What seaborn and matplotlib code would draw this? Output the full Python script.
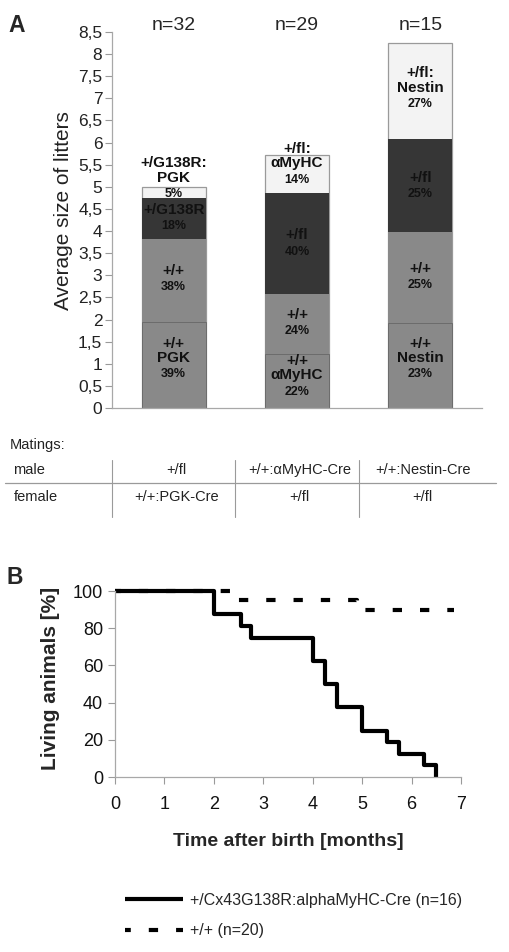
import numpy as np
import pandas as pd
import matplotlib
matplotlib.use('Agg')
from matplotlib import pyplot as plt
from matplotlib.lines import Line2D
import matplotlib.transforms as mtransforms
import seaborn as sns

# --- panel A: average litter size, stacked by genotype ---
crosses = ['PGK', 'αMyHC', 'Nestin']
n_litters = [32, 29, 15]
seg_cre = [1.95, 1.22, 1.92]   # +/+ carrying Cre
seg_wt = [1.88, 1.36, 2.05]    # +/+
seg_mut = [0.92, 2.27, 2.10]   # +/G138R or +/fl
seg_top = [0.25, 0.87, 2.18]   # +/G138R:Cre or +/fl:Cre

lbl_cre = [['+/+', 'PGK', '39%'], ['+/+', 'αMyHC', '22%'], ['+/+', 'Nestin', '23%']]
lbl_wt = [['+/+', '38%'], ['+/+', '24%'], ['+/+', '25%']]
lbl_mut = [['+/G138R', '18%'], ['+/fl', '40%'], ['+/fl', '25%']]
lbl_top = [['+/G138R:', 'PGK', '5%'], ['+/fl:', 'αMyHC', '14%'], ['+/fl:', 'Nestin', '27%']]

yticks_a = np.arange(0, 8.51, 0.5)

males = ['+/fl', '+/+:αMyHC-Cre', '+/+:Nestin-Cre']
females = ['+/+:PGK-Cre', '+/fl', '+/fl']

# --- panel B: survival ---
t_mut = [0, 2.0, 2.55, 2.75, 4.0, 4.25, 4.5, 5.0, 5.5, 5.75, 6.25, 6.5]
s_mut = [100, 87.5, 81.25, 75, 62.5, 50, 37.5, 25, 18.75, 12.5, 6.25, 0]
t_wt = [0, 2.33, 4.9, 6.85]
s_wt = [100, 95, 90, 90]

sns.set_style('white')
plt.rcParams['font.family'] = ['Liberation Sans', 'DejaVu Sans']

fig = plt.figure(figsize=(5.09, 9.52), dpi=100)
W, H = 509., 952.

# ---------- panel A ----------
ax = fig.add_axes([112/W, 1-408/H, 370/W, 376/H])
c1 = np.array(seg_cre)
c2 = c1 + np.array(seg_wt)
c3 = c2 + np.array(seg_mut)
c4 = c3 + np.array(seg_top)

bw = 0.52
sns.barplot(x=crosses, y=c4, color='#f3f3f3', edgecolor='#9a9a9a', linewidth=0.9,
            width=bw, saturation=1, ax=ax)
sns.barplot(x=crosses, y=c3, color='#363636', linewidth=0, width=bw, saturation=1, ax=ax)
sns.barplot(x=crosses, y=c2, color='#898989', linewidth=0, width=bw, saturation=1, ax=ax)
sns.barplot(x=crosses, y=c1, color='#898989', edgecolor='#6c6c6c', linewidth=0.7,
            width=bw, saturation=1, ax=ax)

ax.set_xlim(-0.5, 2.5)
ax.set_ylim(0, 8.5)
ax.set_xticks([])
ax.set_xlabel('')
ax.set_yticks(yticks_a)
ax.set_yticklabels([('%g' % v).replace('.', ',') for v in yticks_a], fontsize=12.5, color='#222222')
ax.tick_params(axis='y', length=5, width=0.8, color='#9a9a9a', pad=2, left=True)
for s in ['top', 'right']:
    ax.spines[s].set_visible(False)
for s in ['left', 'bottom']:
    ax.spines[s].set_color('#a8a8a8')
    ax.spines[s].set_linewidth(0.9)
ax.set_ylabel('Average size of litters', fontsize=15, color='#222222')
ax.yaxis.set_label_coords(-0.105, 0.524)

trans = mtransforms.blended_transform_factory(ax.transData, ax.transAxes)
for i, n in enumerate(n_litters):
    ax.text(i, 1.016, 'n=%d' % n, transform=trans, ha='center', va='center', fontsize=14)


def block(x, yc, lines, step=0.32, pstep=0.37):
    # genotype lines bold, last line is the percentage
    k = len(lines)
    tops = [yc + (step * (k - 2) + pstep) / 2 - step * j for j in range(k - 1)]
    ys = tops + [tops[-1] - pstep]
    for j, (t, y) in enumerate(zip(lines, ys)):
        last = j == k - 1
        fs = 9 if last else 11
        ax.text(x, y, t, ha='center', va='center', fontsize=fs, fontweight='bold',
                color='#111111')


shift_cre = [0.13, 0.1, 0.15]
shift_top = [0.31, 0.22, 0.06]
for i in range(3):
    block(i, c1[i] / 2 + shift_cre[i], lbl_cre[i])
    block(i, (c1[i] + c2[i]) / 2 + 0.02, lbl_wt[i])
    block(i, (c2[i] + c3[i]) / 2 + 0.0, lbl_mut[i])
    block(i, (c3[i] + c4[i]) / 2 + shift_top[i], lbl_top[i])

fig.text(17/W, 1-25/H, 'A', fontsize=16.5, fontweight='bold', ha='center', va='center')

# ---------- matings table ----------
tax = fig.add_axes([112/W, 1-517/H, 370/W, 57/H])
tax.set_xlim(-0.5, 2.5)
tax.set_ylim(0, 1)
tax.axis('off')
tax.text(-1.33, 1.26, 'Matings:', fontsize=10.5, ha='left', va='center', color='#222222')
tax.text(-1.30, 0.82, 'male', fontsize=10.5, ha='left', va='center', color='#222222')
tax.text(-1.30, 0.35, 'female', fontsize=10.5, ha='left', va='center', color='#222222')
for i in range(3):
    tax.text(i + 0.02, 0.82, males[i], fontsize=10.5, ha='center', va='center', color='#222222')
    tax.text(i + 0.02, 0.35, females[i], fontsize=10.5, ha='center', va='center', color='#222222')
for xv in [-0.5, 0.5, 1.5]:
    tax.add_line(Line2D([xv, xv], [0, 1], color='#9a9a9a', lw=0.8, clip_on=False))
tax.add_line(Line2D([-1.37, 2.61], [0.6, 0.6], color='#9a9a9a', lw=0.9, clip_on=False))

# ---------- panel B ----------
bx = fig.add_axes([115/W, 1-777/H, 346/W, 186/H])
df_wt = pd.DataFrame({'t': t_wt, 's': s_wt})
df_mut = pd.DataFrame({'t': t_mut, 's': s_mut})
sns.lineplot(data=df_wt, x='t', y='s', drawstyle='steps-post', color='black', lw=3.0,
             linestyle=(0.84, (2.23, 4.32)), estimator=None, sort=False, ax=bx,
             label='+/+ (n=20)')
sns.lineplot(data=df_mut, x='t', y='s', drawstyle='steps-post', color='black', lw=3.0,
             estimator=None, sort=False, ax=bx,
             label='+/Cx43G138R:alphaMyHC-Cre (n=16)')
for ln in bx.lines:
    ln.set_clip_on(False)
    ln.set_solid_capstyle('butt')
    ln.set_dash_capstyle('butt')

bx.set_xlim(0, 7)
bx.set_ylim(0, 100)
bx.set_xticks(range(8))
bx.set_yticks(range(0, 101, 20))
bx.tick_params(axis='both', labelsize=13, length=5, width=0.8, color='#9a9a9a',
               left=True, bottom=True, labelcolor='#111111')
bx.tick_params(axis='x', pad=9)
for s in ['top', 'right']:
    bx.spines[s].set_visible(False)
for s in ['left', 'bottom']:
    bx.spines[s].set_color('#a8a8a8')
    bx.spines[s].set_linewidth(0.9)
bx.set_xlabel('Time after birth [months]', fontsize=14, fontweight='bold')
bx.set_ylabel('Living animals [%]', fontsize=15, fontweight='bold')
bx.xaxis.set_label_coords(0.5, -0.30)
bx.yaxis.set_label_coords(-0.16, 0.53)

h, l = bx.get_legend_handles_labels()
bx.legend(h[::-1], l[::-1], loc='upper left', bbox_to_anchor=(125/W, 1-893/H),
          bbox_transform=fig.transFigure, frameon=False, fontsize=11.5,
          handlelength=3.6, handletextpad=0.45, labelspacing=0.95,
          borderpad=0, borderaxespad=0)

fig.text(15/W, 1-577/H, 'B', fontsize=16.5, fontweight='bold', ha='center', va='center')

fig.savefig('out.png', dpi=100)
